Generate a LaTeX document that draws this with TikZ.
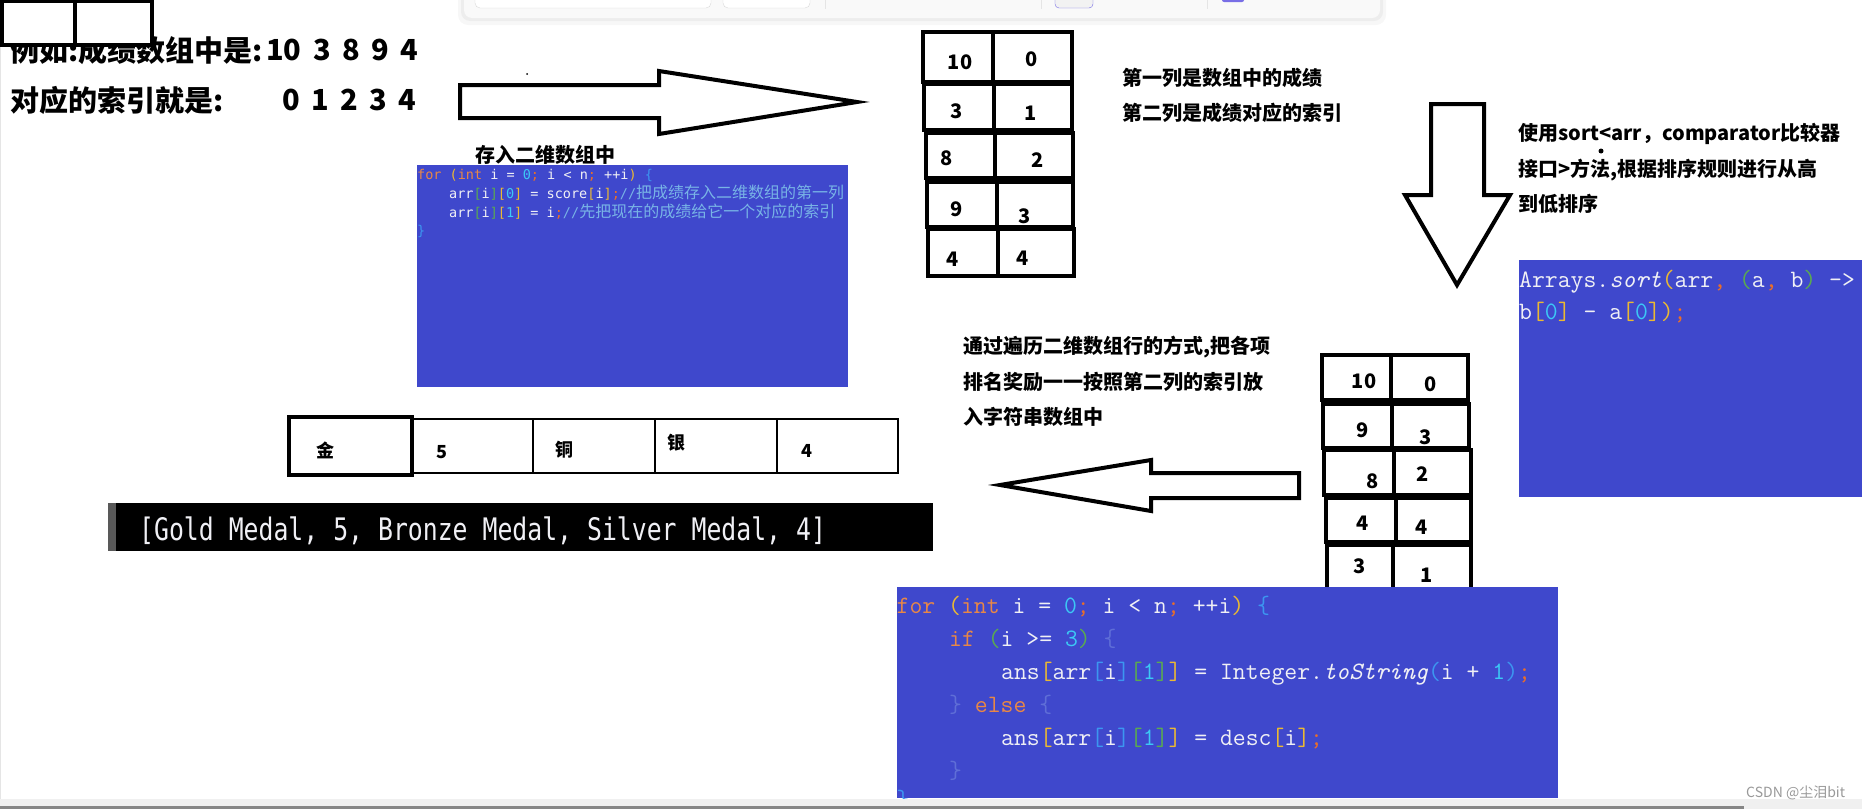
\documentclass[tikz,border=0pt]{standalone}
\usepackage{fontspec}
\usepackage{graphicx}
\newfontfamily\hei{Noto Sans CJK SC}
\newfontfamily\monoA{DejaVu Sans Mono}
\definecolor{indigo}{RGB}{63,72,204}
\definecolor{kwc}{RGB}{232,135,70}
\definecolor{yelc}{RGB}{235,185,50}
\definecolor{grnc}{RGB}{90,170,80}
\definecolor{bluc}{RGB}{60,150,240}
\definecolor{numc}{RGB}{60,200,245}
\definecolor{semic}{RGB}{235,110,40}
\definecolor{comc}{RGB}{120,180,230}
\definecolor{dimc}{RGB}{95,110,215}
\definecolor{codew}{RGB}{240,240,245}
\definecolor{barpurple}{RGB}{120,110,230}
\newcommand\ckw[1]{\textcolor{kwc}{#1}}
\newcommand\cyel[1]{\textcolor{yelc}{#1}}
\newcommand\cgrn[1]{\textcolor{grnc}{#1}}
\newcommand\cblu[1]{\textcolor{bluc}{#1}}
\newcommand\cnum[1]{\textcolor{numc}{#1}}
\newcommand\csemi[1]{\textcolor{semic}{#1}}
\newcommand\ccom[1]{\textcolor{comc}{#1}}
\newcommand\cdim[1]{\textcolor{dimc}{#1}}
\newcommand\cmtcjk[1]{{\hei\fontsize{16}{16}\selectfont #1}}
\newcommand\dgap{\hspace{11.5pt}}
\begin{document}
\begin{tikzpicture}
[x=1pt,y=-1pt,
big/.style={font=\hei\bfseries\fontsize{29}{32}\selectfont, inner sep=0, anchor=west},
note/.style={font=\hei\bfseries\fontsize{20}{24}\selectfont, inner sep=0, anchor=west},
num/.style={font=\hei\bfseries\fontsize{20}{20}\selectfont, inner sep=0},
medal/.style={font=\hei\bfseries\fontsize{18}{18}\selectfont, inner sep=0},
cell/.style={draw=black, line width=4},
blockarrow/.style={draw=black, line width=4, fill=white, line join=miter},
codeA/.style={font=\monoA\fontsize{13.5}{16}\selectfont, text=codew, inner sep=0, anchor=base west},
codeB/.style={font=\ttfamily\fontsize{25}{30}\selectfont, text=codew, inner sep=0, anchor=base west}]
\useasboundingbox (0,0) rectangle (1862,809);
\fill[white] (0,0) rectangle (1862,809);
% window bar
\fill[black, opacity=0.03, rounded corners=10] (458,-12) rectangle (1386,25);
\fill[black, opacity=0.04, rounded corners=9] (461,-12) rectangle (1383,21);
\fill[gray!5, rounded corners=8] (464,-12) rectangle (1380,18);
\draw[gray!30, fill=white, rounded corners=5] (475,-6) rectangle (711,8);
\draw[gray!30, fill=white, rounded corners=5] (723,-6) rectangle (810,8);
\draw[gray!20] (825,-2) -- (825,9);
\draw[gray!20] (1041,-2) -- (1041,9);
\draw[gray!20] (1207,-2) -- (1207,9);
\draw[barpurple, fill=gray!10, rounded corners=4] (1055,-6) rectangle (1093,8);
\fill[barpurple, rounded corners=2] (1222,-4) rectangle (1244,2);
\draw[gray!20, line width=1] (0.5,0) -- (0.5,799);
% top text
\node[big] (t1) at (10,50) {例如:成绩数组中是:};
\node[big] (t1n) at (266,50) {10\dgap 3\dgap 8\dgap 9\dgap 4};
\node[big] (t2) at (10,100) {对应的索引就是:};
\node[big] (t2n) at (282,100) {0\dgap 1\dgap 2\dgap 3\dgap 4};
\draw[cell, fill=white] (2,1) rectangle (75,45);
\draw[cell, fill=white] (75,1) rectangle (152,45);
\draw[blockarrow] (460,85) -- (659,85) -- (659,71) -- (857,102) -- (659,134) -- (659,118) -- (460,118) -- cycle;
\fill (527,74) circle (1);
% first code box
\node[note] (lab1) at (475,155) {存入二维数组中};
\fill[indigo] (417,165) rectangle (848,387);
\node[codeA] (ca1) at (417,179) {\ckw{for} \cyel{(}\ckw{int} i = \cnum{0}\csemi{;} i < n\csemi{;} ++i\cyel{)} \cblu{\{}};
\node[codeA] (ca2) at (449,198) {arr\cgrn{[}i\cgrn{]}\cyel{[}\cnum{0}\cyel{]} = score\cyel{[}i\cyel{]}\csemi{;}\ccom{//\cmtcjk{把成绩存入二维数组的第一列}}};
\node[codeA] (ca3) at (449,217) {arr\cgrn{[}i\cgrn{]}\cyel{[}\cnum{1}\cyel{]} = i\csemi{;}\ccom{//\cmtcjk{先把现在的成绩给它一个对应的索引}}};
\node[codeA] (ca4) at (417,235) {\cblu{\}}};
% table before sorting
\draw[cell] (923,32) rectangle (993,82) (993,32) rectangle (1072,82);
\draw[cell] (924,84) rectangle (994,130) (994,84) rectangle (1072,130);
\draw[cell] (926,133) rectangle (995,178) (995,133) rectangle (1073,178);
\draw[cell] (927,182) rectangle (997,227) (997,182) rectangle (1073,227);
\draw[cell] (928,229) rectangle (998,276) (998,229) rectangle (1074,276);
\node[num] (s1) at (960,62) {10};
\node[num] (i1) at (1032,59) {0};
\node[num] (s2) at (957,111) {3};
\node[num] (i2) at (1031,113) {1};
\node[num] (s3) at (947,158) {8};
\node[num] (i3) at (1038,160) {2};
\node[num] (s4) at (957,209) {9};
\node[num] (i4) at (1025,216) {3};
\node[num] (s5) at (953,259) {4};
\node[num] (i5) at (1023,258) {4};
\node[note] (n1) at (1122,78) {第一列是数组中的成绩};
\node[note] (n2) at (1122,113) {第二列是成绩对应的索引};
% sorting
\draw[blockarrow] (1431,104) -- (1484,104) -- (1484,195) -- (1510,195) -- (1457,285) -- (1405,195) -- (1431,195) -- cycle;
\node[note] (n3) at (1518,134) {使用sort<arr，comparator比较器};
\node[note] (n4) at (1518,170) {接口>方法,根据排序规则进行从高};
\node[note] (n5) at (1518,204) {到低排序};
\fill (1601,151) circle (2.5);
\fill[indigo] (1519,260) rectangle (1862,497);
\node[codeB] (cb1) at (1519,287) {Arrays.{\itshape sort}\cyel{(}arr\csemi{,} \cgrn{(}a\csemi{,} b\cgrn{)} ->};
\node[codeB] (cb2) at (1519,319) {b\cyel{[}\cnum{0}\cyel{]} - a\cyel{[}\cnum{0}\cyel{]}\cyel{)}\csemi{;}};
% table after sorting
\draw[cell] (1322,355) rectangle (1391,400) (1391,355) rectangle (1468,400);
\draw[cell] (1323,404) rectangle (1392,448) (1392,404) rectangle (1469,448);
\draw[cell] (1324,450) rectangle (1394,495) (1394,450) rectangle (1471,495);
\draw[cell] (1326,498) rectangle (1396,542) (1396,498) rectangle (1471,542);
\draw[cell] (1327,545) rectangle (1393,600) (1393,545) rectangle (1471,600);
\node[num] (ss1) at (1364,381) {10};
\node[num] (ii1) at (1431,384) {0};
\node[num] (ss2) at (1363,430) {9};
\node[num] (ii2) at (1426,437) {3};
\node[num] (ss3) at (1373,481) {8};
\node[num] (ii3) at (1423,474) {2};
\node[num] (ss4) at (1363,523) {4};
\node[num] (ii4) at (1422,527) {4};
\node[num] (ss5) at (1360,566) {3};
\node[num] (ii5) at (1427,575) {1};
\node[note] (n6) at (963,347) {通过遍历二维数组行的方式,把各项};
\node[note] (n7) at (963,382) {排名奖励一一按照第二列的索引放};
\node[note] (n8) at (963,417) {入字符串数组中};
\draw[blockarrow] (1299,473) -- (1151,473) -- (1151,460) -- (1000,485) -- (1151,511) -- (1151,498) -- (1299,498) -- cycle;
% answer array
\draw[black, line width=2.5] (412,419) rectangle (533,473);
\draw[black, line width=2.5] (533,419) rectangle (655,473);
\draw[black, line width=2.5] (655,419) rectangle (777,473);
\draw[black, line width=2.5] (777,419) rectangle (898,473);
\draw[cell] (289,417) rectangle (412,475);
\node[medal] (m1) at (325,450) {金};
\node[medal] (m2) at (442,452) {5};
\node[medal] (m3) at (564,450) {铜};
\node[medal] (m4) at (676,443) {银};
\node[medal] (m5) at (807,451) {4};
\fill[black] (108,503) rectangle (933,551);
\fill[black!65] (108,503) rectangle (116,551);
\node[anchor=base west, inner sep=0, text=codew] (out) at (139,540) {\scalebox{0.8}[1]{\monoA\fontsize{31}{31}\selectfont [Gold Medal, 5, Bronze Medal, Silver Medal, 4]}};
% last code box
\fill[indigo] (896.5,587) rectangle (1558,798);
\begin{scope}
\clip (896.5,587) rectangle (1558,798);
\node[codeB] (cc1) at (896.5,613) {\ckw{for} \cyel{(}\ckw{int} i = \cnum{0}\csemi{;} i < n\csemi{;} ++i\cyel{)} \cblu{\{}};
\node[codeB] (cc2) at (949,646) {\ckw{if} \cgrn{(}i >= \cnum{3}\cgrn{)} \cdim{\{}};
\node[codeB] (cc3) at (1001,679) {ans\cyel{[}arr\cblu{[}i\cblu{]}\cgrn{[}\cnum{1}\cgrn{]}\cyel{]} = Integer.{\itshape toString}\cblu{(}i + \cnum{1}\cblu{)}\csemi{;}};
\node[codeB] (cc4) at (949,712) {\cdim{\}} \ckw{else} \cdim{\{}};
\node[codeB] (cc5) at (1001,745) {ans\cyel{[}arr\cblu{[}i\cblu{]}\cgrn{[}\cnum{1}\cgrn{]}\cyel{]} = desc\cyel{[}i\cyel{]}\csemi{;}};
\node[codeB] (cc6) at (949,778) {\cdim{\}}};
\node[codeB] (cc7) at (896.5,807) {\cblu{\}}};
\end{scope}
% bottom strip
\fill[gray!12] (0,799) rectangle (1862,809);
\fill[gray!95!white] (0,806) rectangle (1744,809);
\node[anchor=west, inner sep=0, text=black!40, font=\hei\fontsize{14}{14}\selectfont] (wm) at (1746,793) {CSDN @尘泪bit};
\end{tikzpicture}
\end{document}
